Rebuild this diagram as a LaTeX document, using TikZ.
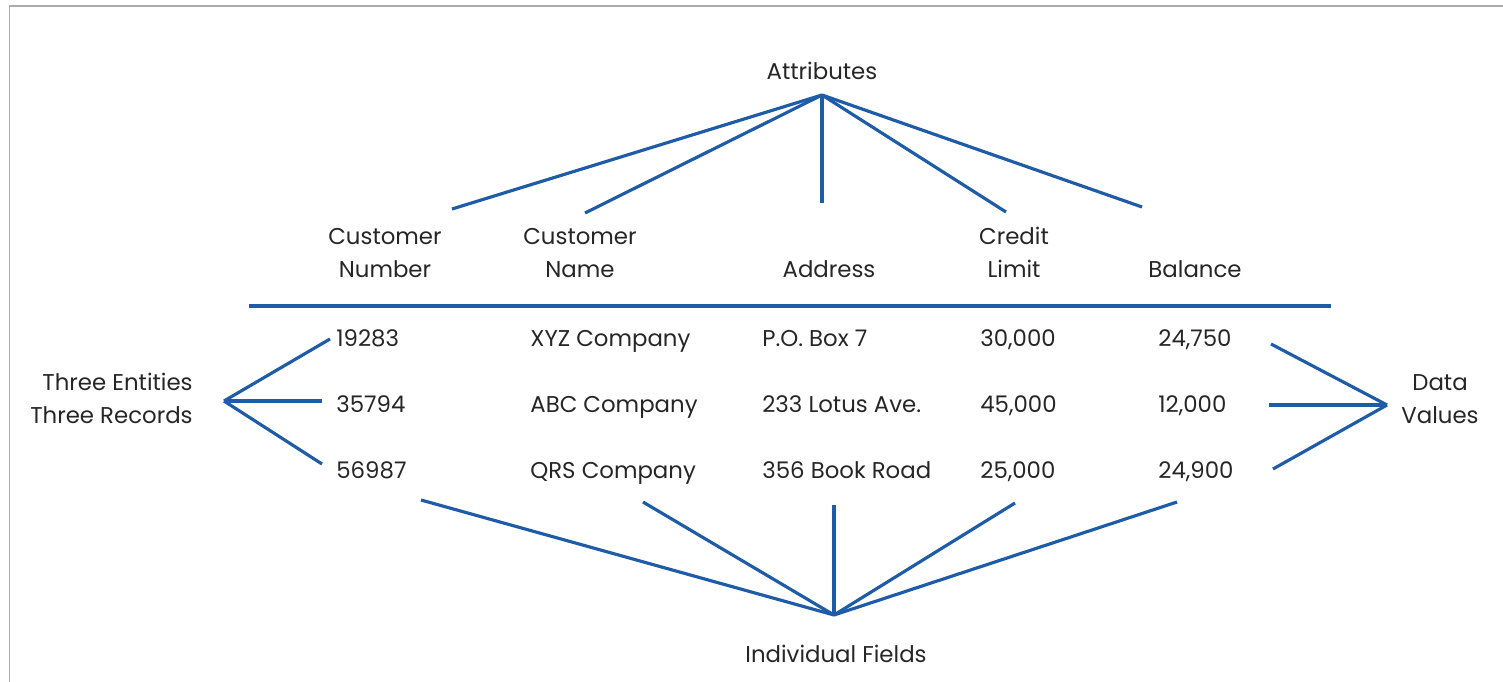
\documentclass[tikz,border=0pt]{standalone}
\usepackage{fontspec}
\setmainfont{Poppins}
\definecolor{lineblue}{RGB}{30,92,168}
\definecolor{txtgray}{RGB}{38,38,38}
\begin{document}
\begin{tikzpicture}[x=0.02cm,y=-0.02cm,word/.style={text=txtgray,font=\fontsize{13}{18.7}\selectfont,inner sep=0pt,anchor=base},cell/.style={word,anchor=base west},link/.style={draw=lineblue,line width=1.8pt}]
\def\ra{346};
\def\rb{412};
\def\rc{478};
\def\hd{277};

\useasboundingbox (0,0) rectangle (1503,682);
\draw[gray!65,line width=0.6pt] (9.5,682) -- (9.5,6) -- (1503,6);

\node[word] (ATT) at (822,80) {Attributes};
\coordinate (AT) at (822,95);

\node[word,align=center] (CNUM) at (385,\hd) {Customer\\Number};
\node[word,align=center] (CNAM) at (580,\hd) {Customer\\Name};
\node[word] (ADR) at (829,\hd) {Address};
\node[word,align=center] (CRL) at (1014,\hd) {Credit\\Limit};
\node[word] (BAL) at (1195,\hd) {Balance};

\coordinate (t1) at (452,209);
\coordinate (t2) at (585,213);
\coordinate (t3) at (822,203);
\coordinate (t4) at (1006,212);
\coordinate (t5) at (1142,207);
\draw[link] (AT) -- (t1);
\draw[link] (AT) -- (t2);
\draw[link] (AT) -- (t3);
\draw[link] (AT) -- (t4);
\draw[link] (AT) -- (t5);

\coordinate (HL) at (249,306);
\coordinate (HR) at (1331,306);
\draw[link] (HL) -- (HR);

\node[cell] (N1) at (336,\ra) {19283};
\node[cell] (C1) at (530,\ra) {XYZ Company};
\node[cell] (A1) at (762,\ra) {P.O. Box 7};
\node[cell] (L1) at (980,\ra) {30,000};
\node[cell] (B1) at (1158,\ra) {24,750};

\node[cell] (N2) at (336,\rb) {35794};
\node[cell] (C2) at (530,\rb) {ABC Company};
\node[cell] (A2) at (762,\rb) {233 Lotus Ave.};
\node[cell] (L2) at (980,\rb) {45,000};
\node[cell] (B2) at (1158,\rb) {12,000};

\node[cell] (N3) at (336,\rc) {56987};
\node[cell] (C3) at (530,\rc) {QRS Company};
\node[cell] (A3) at (762,\rc) {356 Book Road};
\node[cell] (L3) at (980,\rc) {25,000};
\node[cell] (B3) at (1158,\rc) {24,900};

\node[word,align=right,anchor=base east] (ENT) at (193,423) {Three Entities\\Three Records};
\coordinate (EA) at (224,401);
\coordinate (e1) at (330,339);
\coordinate (e2) at (322,401);
\coordinate (e3) at (322,464);
\draw[link] (EA) -- (e1);
\draw[link] (EA) -- (e2);
\draw[link] (EA) -- (e3);

\node[word,align=center] (DV) at (1440,423) {Data\\Values};
\coordinate (DA) at (1387,405);
\coordinate (d1) at (1271,344);
\coordinate (d2) at (1269,405);
\coordinate (d3) at (1273,469);
\draw[link] (d1) -- (DA);
\draw[link] (d2) -- (DA);
\draw[link] (d3) -- (DA);

\node[word] (IF) at (836,662) {Individual Fields};
\coordinate (FA) at (834,615);
\coordinate (f1) at (421,500);
\coordinate (f2) at (643,502);
\coordinate (f3) at (834,505);
\coordinate (f4) at (1015,503);
\coordinate (f5) at (1177,502);
\draw[link] (f1) -- (FA);
\draw[link] (f2) -- (FA);
\draw[link] (f3) -- (FA);
\draw[link] (f4) -- (FA);
\draw[link] (f5) -- (FA);
\end{tikzpicture}
\end{document}
